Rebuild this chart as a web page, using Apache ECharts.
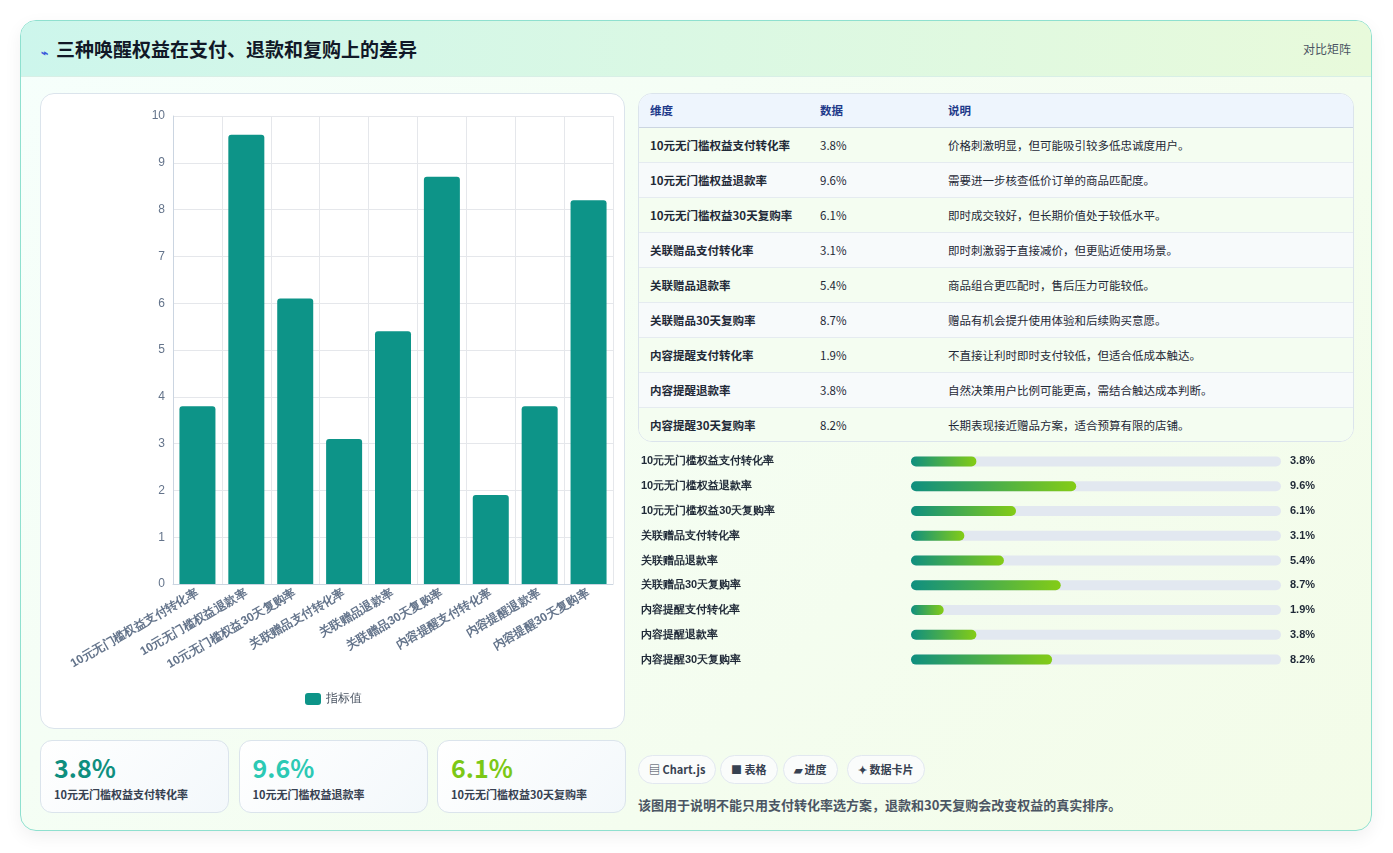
<!DOCTYPE html>
<html><head><meta charset="utf-8">
<script src="https://cdn.jsdelivr.net/npm/echarts@6/dist/echarts.min.js"></script>
<style>
*{box-sizing:border-box;margin:0;padding:0}
body{width:1393px;height:853px;background:#fff;font-family:"Noto Sans CJK SC","Noto Sans",sans-serif;position:relative;overflow:hidden}
#card{position:absolute;left:20px;top:20px;width:1352px;height:811px;border:1px solid #8fe0cf;border-radius:16px;overflow:hidden;background:linear-gradient(135deg,#f6fffc 0%,#f3fce8 100%);box-shadow:0 6px 18px rgba(0,0,0,.06)}
#hdr{position:absolute;left:0;top:0;width:100%;height:56px;background:linear-gradient(90deg,#cdf6ec,#e8fadb);border-bottom:1px solid #d8efe6}
#hdr .t{position:absolute;left:20px;top:14px;font-size:19px;font-weight:700;color:#111827}
#hdr .t span{color:#3b5bdb;font-size:12px;margin-right:8px}
#hdr .r{position:absolute;right:20px;top:19px;font-size:12px;color:#4b5563}
.panel{position:absolute;background:#fff;border:1px solid #dbe4ec;border-radius:14px}
#cp{left:19px;top:72px;width:585px;height:636px}
#chart{position:absolute;left:0;top:0;width:585px;height:636px}
#tbl{left:617px;top:72px;width:716px;height:349px;overflow:hidden}
table{border-collapse:collapse;width:100%;font-size:11.5px;color:#1f2937}
th{background:#eef5fd;color:#1e3a8a;text-align:left;font-weight:700;height:33px;border-bottom:1px solid #cbd5e1;padding-left:11px}
td{height:35px;border-bottom:1px solid #e5ebf0;padding-left:11px}
tr:nth-child(odd) td{background:#f7fafb}
tr:nth-child(even) td{background:#f4fdf1}
td:first-child{font-weight:700}
#prog{position:absolute;left:617px;top:428px;width:720px;height:230px}
.kc{position:absolute;top:719px;width:189px;height:73px;background:linear-gradient(135deg,#fff,#f3f8fb);border:1px solid #dbe4ec;border-radius:12px}
.kc .v{position:absolute;left:13px;top:8px;font-size:25px;font-weight:700}
.kc .l{position:absolute;left:13px;top:45px;font-size:11px;font-weight:700;color:#374151}
.chip{position:absolute;top:734px;height:29px;border:1px solid #e2e8f0;border-radius:15px;background:#fafcfb;font-size:11px;font-weight:700;color:#374151;line-height:27px;padding:0 10px}
#note{position:absolute;left:617px;top:774px;font-size:13px;color:#4b5563;font-weight:600}
</style></head><body>
<div id="card">
<div id="hdr"><div class="t"><span>⌁</span>三种唤醒权益在支付、退款和复购上的差异</div><div class="r">对比矩阵</div></div>
<div class="panel" id="cp"><div id="chart"></div></div>
<div class="panel" id="tbl"><table id="tb"></table></div>
<div id="prog"></div>
<div id="kpis"></div>
<div class="chip" style="left:617px">▤ Chart.js</div>
<div class="chip" style="left:699px">■ 表格</div>
<div class="chip" style="left:762px">▰ 进度</div>
<div class="chip" style="left:826px">✦ 数据卡片</div>
<div id="note">该图用于说明不能只用支付转化率选方案，退款和30天复购会改变权益的真实排序。</div>
</div>
<script>
const categories=["10元无门槛权益支付转化率","10元无门槛权益退款率","10元无门槛权益30天复购率","关联赠品支付转化率","关联赠品退款率","关联赠品30天复购率","内容提醒支付转化率","内容提醒退款率","内容提醒30天复购率"];
const values=[3.8,9.6,6.1,3.1,5.4,8.7,1.9,3.8,8.2];
const notes=["价格刺激明显，但可能吸引较多低忠诚度用户。","需要进一步核查低价订单的商品匹配度。","即时成交较好，但长期价值处于较低水平。","即时刺激弱于直接减价，但更贴近使用场景。","商品组合更匹配时，售后压力可能较低。","赠品有机会提升使用体验和后续购买意愿。","不直接让利时即时支付较低，但适合低成本触达。","自然决策用户比例可能更高，需结合触达成本判断。","长期表现接近赠品方案，适合预算有限的店铺。"];
const kpiColors=["#0f8f7f","#2cc9b4","#7cc816"];

let h='<tr><th style="width:170px">维度</th><th style="width:128px">数据</th><th>说明</th></tr>';
categories.forEach((c,i)=>{h+=`<tr><td>${c}</td><td>${values[i]}%</td><td>${notes[i]}</td></tr>`});
document.getElementById('tb').innerHTML=h;
let k='';
[0,1,2].forEach(i=>{k+=`<div class="kc" style="left:${19+i*198.5}px"><div class="v" style="color:${kpiColors[i]}">${values[i]}%</div><div class="l">${categories[i]}</div></div>`});
document.getElementById('kpis').innerHTML=k;

const c1=echarts.init(document.getElementById('chart'));
c1.setOption({animation:false,
 grid:{left:132,right:13,top:22,bottom:146},
 legend:{bottom:20,itemWidth:16,itemHeight:12,textStyle:{fontSize:12,color:'#4b5563'},data:['指标值']},
 xAxis:{type:'category',data:categories,axisTick:{show:false},axisLine:{lineStyle:{color:'#cbd5e1'}},splitLine:{show:true,lineStyle:{color:'#e5e7eb'}},
  axisLabel:{rotate:30,interval:0,fontSize:12,fontWeight:'bold',color:'#64748b',margin:8}},
 yAxis:{type:'value',min:0,max:10,interval:1,axisLine:{show:true,lineStyle:{color:'#cbd5e1'}},axisLabel:{color:'#64748b',fontSize:12},splitLine:{lineStyle:{color:'#e5e7eb'}}},
 series:[{name:'指标值',type:'bar',data:values,barWidth:36,itemStyle:{color:'#0d9488',borderRadius:[3,3,0,0]}}]});

const c2=echarts.init(document.getElementById('prog'));
c2.setOption({animation:false,
 grid:{left:270,right:77,top:0,height:223},
 xAxis:{type:'value',min:0,max:21.5,show:false},
 yAxis:[{type:'category',inverse:true,data:categories,axisLine:{show:false},axisTick:{show:false},
   axisLabel:{align:'left',margin:270,fontSize:11,fontWeight:'bold',color:'#1f2937'}},
  {type:'category',inverse:true,position:'right',data:values.map(v=>v+'%'),axisLine:{show:false},axisTick:{show:false},
   axisLabel:{margin:9,fontSize:11,fontWeight:'bold',color:'#1f2937'}}],
 series:[{type:'bar',data:values,barWidth:10,showBackground:true,
   backgroundStyle:{color:'#e2e8f0',borderRadius:5},
   itemStyle:{borderRadius:5,color:new echarts.graphic.LinearGradient(0,0,1,0,[{offset:0,color:'#0f8f7f'},{offset:1,color:'#84cc16'}])}}]});
</script>
</body></html>
